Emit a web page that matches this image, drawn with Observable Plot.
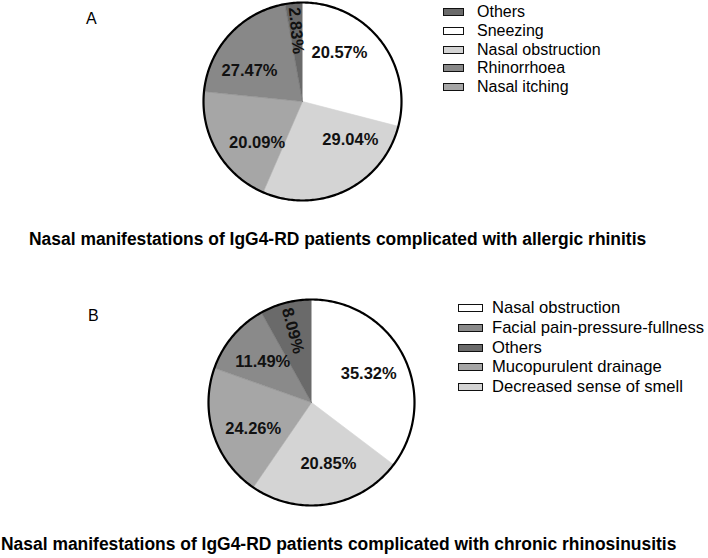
<!DOCTYPE html>
<html>
<head>
<meta charset="utf-8">
<script src="https://cdn.jsdelivr.net/npm/d3@7"></script>
<script src="https://cdn.jsdelivr.net/npm/@observablehq/plot@0.6"></script>
<style>
  html, body { margin: 0; padding: 0; background: #fff; }
  #root { position: relative; width: 708px; height: 558px; overflow: hidden;
          font-family: "Liberation Sans", Arial, sans-serif; color: #000; }
  .abs { position: absolute; white-space: nowrap; line-height: 1; }
  .legend { position: absolute; }
  .legend .row { display: flex; align-items: center; white-space: nowrap; }
  .legend .sw { box-sizing: border-box; border: 1.6px solid #111; flex: none; }
  svg { overflow: visible; }
</style>
</head>
<body>
<div id="root"></div>
<script>
// ---------- Panel A: allergic rhinitis ----------
// slices clockwise from 12 o'clock, with shares as drawn in the picture
const sliceCatsA   = ["Sneezing", "Nasal obstruction", "Nasal itching", "Rhinorrhoea", "Others"];
const sliceSharesA = [29.04, 27.47, 20.09, 20.57, 2.83];
// the percentage printed inside each slice (as printed in the figure)
const labelValuesA = [20.57, 29.04, 20.09, 27.47, 2.83];
const legendOrderA = ["Others", "Sneezing", "Nasal obstruction", "Rhinorrhoea", "Nasal itching"];
const titleA = "Nasal manifestations of IgG4-RD patients complicated with allergic rhinitis";

// ---------- Panel B: chronic rhinosinusitis ----------
const sliceCatsB   = ["Nasal obstruction", "Decreased sense of smell", "Mucopurulent drainage", "Facial pain-pressure-fullness", "Others"];
const sliceSharesB = [35.32, 24.26, 20.85, 11.49, 8.09];
const labelValuesB = [35.32, 20.85, 24.26, 11.49, 8.09];
const legendOrderB = ["Nasal obstruction", "Facial pain-pressure-fullness", "Others", "Mucopurulent drainage", "Decreased sense of smell"];
const titleB = "Nasal manifestations of IgG4-RD patients complicated with chronic rhinosinusitis";

// gray fills, listed in slice order (white, light, mid, darker, darkest)
const graysA = ["#ffffff", "#d4d4d4", "#a6a6a6", "#888888", "#6a6a6a"];
const graysB = ["#ffffff", "#d4d4d4", "#a6a6a6", "#8a8a8a", "#6a6a6a"];

const FONT = "'Liberation Sans', Arial, sans-serif";
const root = document.getElementById("root");

function arcs(values) {
  const total = d3.sum(values);
  let acc = 0;
  return values.map(v => {
    const a0 = acc / total * 2 * Math.PI;
    acc += v;
    return {a0, a1: acc / total * 2 * Math.PI, share: v / total};
  });
}

function piePlot(cats, shares, labelValues, grays, cfg) {
  const slices = arcs(shares);
  const pts = [];
  slices.forEach((s, i) => {
    pts.push({cat: cats[i], x: 0, y: 0});
    const n = Math.max(2, Math.ceil((s.a1 - s.a0) / (2 * Math.PI) * 360));
    for (let k = 0; k <= n; k++) {
      const t = s.a0 + (s.a1 - s.a0) * k / n;
      pts.push({cat: cats[i], x: Math.sin(t), y: Math.cos(t)});
    }
  });
  const ring = d3.range(0, 361).map(k => {
    const t = k / 360 * 2 * Math.PI;
    return {x: Math.sin(t), y: Math.cos(t)};
  });
  // printed labels sit at the centroid of a pie built from the printed values,
  // kept clear of the drawn slice's edges by half a label width
  const halfLabel = 26; // px
  const labs = arcs(labelValues).map((s, i) => {
    let m = (s.a0 + s.a1) / 2;
    const small = s.share < 0.1;
    const rr = small ? 0.72 : 0.62;
    if (!small) {
      const d = slices[i];
      const delta = halfLabel / (rr * cfg.r);
      if (d.a1 - d.a0 > 2 * delta) m = Math.min(Math.max(m, d.a0 + delta), d.a1 - delta);
      else m = (d.a0 + d.a1) / 2;
    }
    return {
      x: rr * Math.sin(m), y: rr * Math.cos(m),
      text: labelValues[i].toFixed(2) + "%",
      rotate: small ? (m * 180 / Math.PI - 270) : 0
    };
  });
  return Plot.plot({
    width: cfg.width, height: cfg.height, margin: 0,
    style: {fontFamily: FONT, background: "transparent", overflow: "visible"},
    x: {domain: [-1, 1], range: [cfg.cx - cfg.r, cfg.cx + cfg.r], axis: null},
    y: {domain: [-1, 1], range: [cfg.cy + cfg.r, cfg.cy - cfg.r], axis: null},
    color: {domain: cats, range: grays},
    marks: [
      Plot.line(pts, {x: "x", y: "y", z: "cat", fill: "cat", stroke: "cat", strokeWidth: 0.6, curve: "linear"}),
      Plot.line(ring, {x: "x", y: "y", stroke: "#000", strokeWidth: 2.2, curve: "linear"}),
      Plot.text(labs, {x: "x", y: "y", text: "text", rotate: "rotate", fontSize: 16.5, fontWeight: "bold", fill: "#111"})
    ]
  });
}

function place(el, left, top) {
  el.style.left = left + "px";
  el.style.top = top + "px";
  root.appendChild(el);
  return el;
}

function textAt(str, left, cy, size, weight) {
  const el = document.createElement("div");
  el.className = "abs";
  el.textContent = str;
  el.style.fontSize = size + "px";
  el.style.fontWeight = weight || "normal";
  return place(el, left, cy - 0.49 * size);
}

function legend(order, cats, grays, cfg) {
  const box = document.createElement("div");
  box.className = "legend";
  for (const name of order) {
    const row = document.createElement("div");
    row.className = "row";
    row.style.height = cfg.rowH + "px";
    row.style.fontSize = cfg.size + "px";
    const sw = document.createElement("div");
    sw.className = "sw";
    sw.style.width = cfg.swW + "px";
    sw.style.height = cfg.swH + "px";
    sw.style.background = grays[cats.indexOf(name)];
    sw.style.marginRight = cfg.gap + "px";
    const tx = document.createElement("span");
    tx.textContent = name;
    row.appendChild(sw);
    row.appendChild(tx);
    box.appendChild(row);
  }
  return place(box, cfg.left, cfg.top);
}

// Panel A
const svgA = piePlot(sliceCatsA, sliceSharesA, labelValuesA, graysA,
  {width: 708, height: 215, cx: 302, cy: 101, r: 99});
svgA.style.position = "absolute";
place(svgA, 0, 0);
textAt("A", 86, 19, 16);
legend(legendOrderA, sliceCatsA, graysA, {left: 443, top: 2.8, rowH: 18.75, size: 16, swW: 21, swH: 8, gap: 13});
textAt(titleA, 29, 240, 17.45, "bold");

// Panel B
const svgB = piePlot(sliceCatsB, sliceSharesB, labelValuesB, graysB,
  {width: 708, height: 240, cx: 311, cy: 122, r: 103});
svgB.style.position = "absolute";
place(svgB, 0, 280);
textAt("B", 88, 316, 16);
legend(legendOrderB, sliceCatsB, graysB, {left: 458, top: 298.3, rowH: 19.75, size: 16.6, swW: 25, swH: 8, gap: 9});
textAt(titleB, 1, 545, 17.45, "bold");
</script>
</body>
</html>
